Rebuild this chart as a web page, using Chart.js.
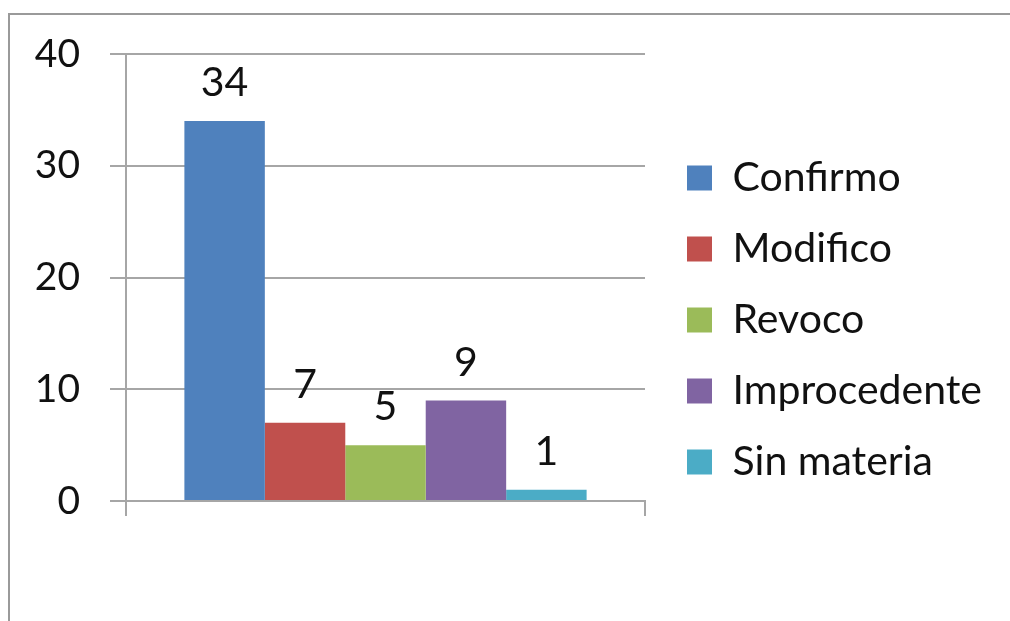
<!DOCTYPE html>
<html>
<head>
<meta charset="utf-8">
<script src="https://cdn.jsdelivr.net/npm/chart.js@4.4.0/dist/chart.umd.min.js"></script>
<style>
  html, body { margin: 0; padding: 0; background: #fff; overflow: hidden; }
  canvas { display: block; }
</style>
</head>
<body>
<canvas id="grafico" width="1010" height="621"></canvas>
<script>
// datos del gráfico
const categorias = [''];
const series = ['Confirmo', 'Modifico', 'Revoco', 'Improcedente', 'Sin materia'];
const valores = [34, 7, 5, 9, 1];
const colores = ['#4F81BD', '#C0504D', '#9BBB59', '#8064A2', '#4BACC6'];
const ejeY = { min: 0, max: 40, paso: 10 };

const fuente = 'Lato, "Liberation Sans", sans-serif';
const gris = '#a6a6a6';

// marco exterior: solo borde superior e izquierdo visibles
const marco = {
  id: 'marco',
  beforeDraw(chart) {
    const ctx = chart.ctx;
    ctx.save();
    ctx.strokeStyle = '#9a9a9a';
    ctx.lineWidth = 2;
    ctx.beginPath();
    ctx.moveTo(chart.width, 14);
    ctx.lineTo(9, 14);
    ctx.lineTo(9, chart.height);
    ctx.stroke();
    ctx.restore();
  }
};

// etiquetas de valor sobre cada barra
const etiquetas = {
  id: 'etiquetas',
  afterDatasetsDraw(chart) {
    const ctx = chart.ctx;
    ctx.save();
    ctx.font = '41px ' + fuente;
    ctx.fillStyle = '#111';
    ctx.textAlign = 'center';
    ctx.textBaseline = 'middle';
    chart.data.datasets.forEach(function (ds, i) {
      chart.getDatasetMeta(i).data.forEach(function (bar, j) {
        ctx.fillText(String(ds.data[j]), bar.x, bar.y - 38);
      });
    });
    ctx.restore();
  }
};

// ajuste de la leyenda: ancho fijo y posición a la derecha
const ajusteLeyenda = {
  id: 'ajusteLeyenda',
  afterInit(chart) {
    const lg = chart.legend;
    const fitOrig = lg.fit;
    lg.fit = function () {
      fitOrig.call(this);
      this.width = 365;
    };
  },
  afterLayout(chart) {
    const lg = chart.legend;
    lg.left = chart.chartArea.right + 12;
    lg.right = chart.width;
    lg.top = 19;
    lg.bottom = chart.height;
  }
};

const config = {
  type: 'bar',
  data: {
    labels: categorias,
    datasets: series.map(function (nombre, i) {
      return {
        label: nombre,
        data: [valores[i]],
        backgroundColor: colores[i],
        borderWidth: 0,
        categoryPercentage: 0.775,
        barPercentage: 1
      };
    })
  },
  options: {
    responsive: false,
    animation: false,
    layout: { padding: { top: 54, right: 0, bottom: 0, left: 0 } },
    plugins: {
      tooltip: { enabled: false },
      legend: {
        position: 'right',
        labels: {
          boxWidth: 25,
          boxHeight: 25,
          padding: 30,
          color: '#111',
          font: { family: fuente, size: 41 }
        }
      }
    },
    scales: {
      x: {
        grid: { drawOnChartArea: false, drawTicks: true, tickLength: 15, color: gris, lineWidth: 2 },
        border: { color: gris, width: 2 },
        ticks: { display: false },
        afterFit: function (s) { s.height = 120; }
      },
      y: {
        min: ejeY.min,
        max: ejeY.max,
        ticks: {
          stepSize: ejeY.paso,
          padding: 30,
          color: '#111',
          font: { family: fuente, size: 39 }
        },
        grid: { color: gris, lineWidth: 2, tickLength: 16 },
        border: { color: gris, width: 2 },
        afterFit: function (s) { s.width = 126; }
      }
    }
  },
  plugins: [marco, etiquetas, ajusteLeyenda]
};

new Chart(document.getElementById('grafico').getContext('2d'), config);
</script>
</body>
</html>
